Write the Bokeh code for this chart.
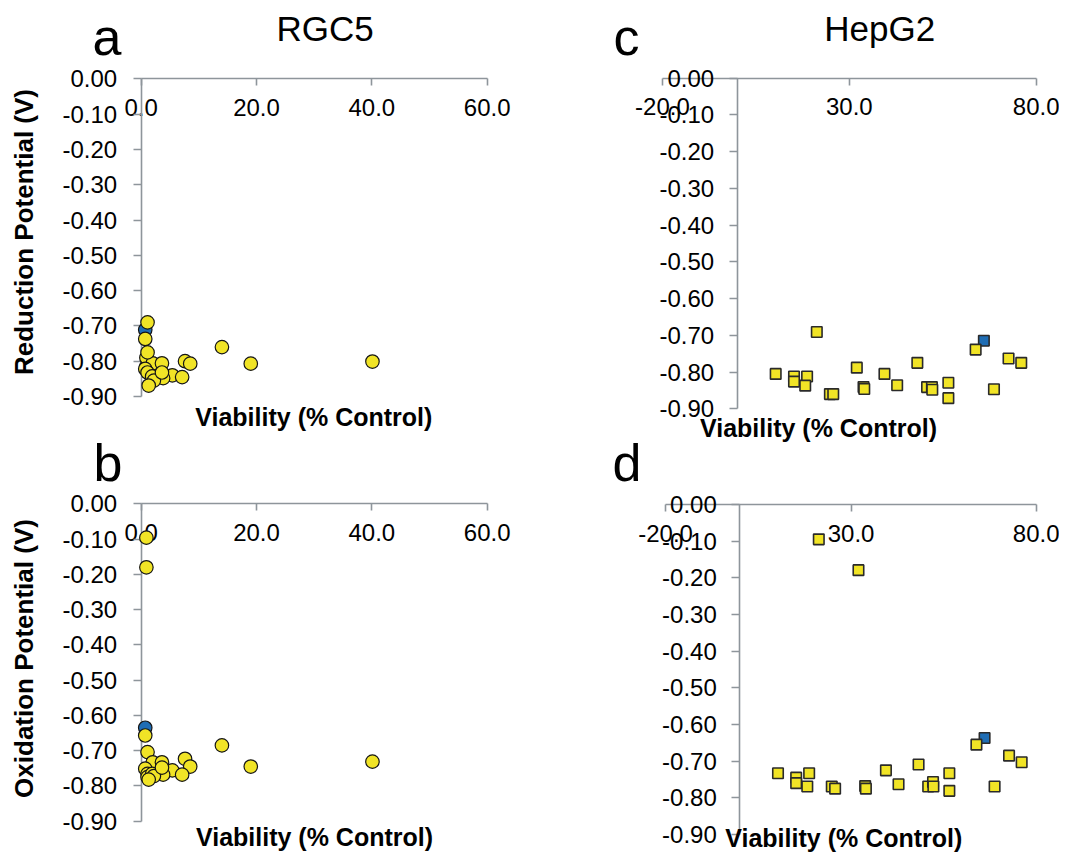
import math
from bokeh.plotting import figure
from bokeh.models import Range1d, LinearAxis, FixedTicker, NumeralTickFormatter, Label
from bokeh.embed import file_html
from bokeh.resources import INLINE

# ---------------- data ----------------
# RGC5 (panels a, b): viability (% control) vs reduction / oxidation potential (V)
rgc5_viability = [0.9, 0.9, 0.7, 1.1, 2.0, 3.6, 7.6, 8.5, 5.4, 7.1, 3.8,
                  14.0, 19.0, 0.7, 1.1, 1.1, 1.9, 2.2, 1.3, 40.1, 3.6]
rgc5_reduction = [-0.815, -0.790, -0.737, -0.690, -0.806, -0.806, -0.800, -0.807, -0.840, -0.845, -0.848,
                  -0.760, -0.807, -0.822, -0.775, -0.832, -0.843, -0.855, -0.869, -0.801, -0.832]
rgc5_oxidation = [-0.096, -0.180, -0.657, -0.704, -0.733, -0.733, -0.723, -0.745, -0.756, -0.768, -0.768,
                  -0.685, -0.745, -0.751, -0.766, -0.775, -0.766, -0.772, -0.782, -0.731, -0.748]
rgc5_ref_viability = [0.7]
rgc5_ref_reduction = [-0.711]
rgc5_ref_oxidation = [-0.635]

# HepG2 (panels c, d)
hepg2_viability = [10.3, 15.2, 15.2, 18.7, 18.2, 21.3, 24.8, 25.7, 32.0, 33.8, 34.0, 39.4,
                   42.8, 48.2, 50.8, 52.1, 52.2, 56.5, 56.5, 63.8, 68.7, 72.6, 76.0]
hepg2_reduction = [-0.805, -0.812, -0.826, -0.812, -0.837, -0.691, -0.860, -0.860, -0.788, -0.841, -0.846, -0.805,
                   -0.836, -0.775, -0.841, -0.841, -0.848, -0.829, -0.871, -0.739, -0.847, -0.763, -0.775]
hepg2_oxidation = [-0.733, -0.745, -0.760, -0.733, -0.769, -0.095, -0.769, -0.775, -0.179, -0.768, -0.775, -0.725,
                   -0.763, -0.709, -0.769, -0.757, -0.769, -0.733, -0.781, -0.655, -0.769, -0.685, -0.703]
hepg2_ref_viability = [66.0]
hepg2_ref_reduction = [-0.715]
hepg2_ref_oxidation = [-0.637]

y_ticks = [0.0, -0.1, -0.2, -0.3, -0.4, -0.5, -0.6, -0.7, -0.8, -0.9]
rgc5_x_ticks = [0.0, 20.0, 40.0, 60.0]
hepg2_x_ticks = [-20.0, 30.0, 80.0]

panel_letters = ["a", "b", "c", "d"]
cell_titles = ["RGC5", "HepG2"]
x_title = "Viability (% Control)"
y_titles = ["Reduction Potential (V)", "Oxidation Potential (V)"]

# ---------------- layout (pixel frame of the picture) ----------------
W, H = 1059, 852
LEFT, RIGHT, TOP, BOTTOM = 0, W, 0, H

YELLOW = "#F1E426"
BLUE = "#1F6DB4"
AXIS_GREY = "#8E959B"
FONT = "Liberation Sans"


def span(p0, v0, p1, v1, lo, hi):
    k = (v1 - v0) / (p1 - p0)
    return v0 + (lo - p0) * k, v0 + (hi - p0) * k


def xr(p0, p1, v1):
    a, b = span(p0, 0.0, p1, v1, LEFT, RIGHT)
    return Range1d(start=a, end=b)


def yr(p0, p1):
    a, b = span(p0, 0.0, p1, -0.9, BOTTOM, TOP)
    return Range1d(start=a, end=b)


p = figure(width=W, height=H, x_range=Range1d(LEFT, RIGHT), y_range=Range1d(BOTTOM, TOP),
           x_axis_type=None, y_axis_type=None, toolbar_location=None,
           output_backend="svg", min_border=0, outline_line_color=None)
p.background_fill_color = "white"
p.grid.visible = False

p.extra_x_ranges = {
    "rgc": xr(140.7, 486.7, 60.0),
    "hc": xr(736.7, 1035.7, 80.0),
    "hd": xr(739.3, 1036.0, 80.0),
}
p.extra_y_ranges = {
    "ya": yr(78.3, 396.0),
    "yb": yr(503.3, 820.7),
    "yc": yr(77.5, 408.3),
    "yd": yr(504.0, 834.0),
}


def add_axes(xname, yname, xbounds, xticks, ystandoff):
    xa = LinearAxis(x_range_name=xname, y_range_name=yname, fixed_location=0,
                    bounds=xbounds, ticker=FixedTicker(ticks=xticks),
                    formatter=NumeralTickFormatter(format="0.0"))
    ya = LinearAxis(x_range_name=xname, y_range_name=yname, fixed_location=0,
                    bounds=(-0.9, 0.0), ticker=FixedTicker(ticks=y_ticks),
                    formatter=NumeralTickFormatter(format="0.00"))
    for ax, tick_out, standoff in ((xa, 7, 13), (ya, 8, ystandoff)):
        ax.axis_line_color = AXIS_GREY
        ax.axis_line_width = 1.6
        ax.major_tick_line_color = AXIS_GREY
        ax.major_tick_line_width = 1.6
        ax.major_tick_in = 0
        ax.major_tick_out = tick_out
        ax.minor_tick_line_color = None
        ax.major_label_text_font = FONT
        ax.major_label_text_font_size = "24px"
        ax.major_label_text_color = "black"
        ax.major_label_standoff = standoff
        ax.level = "underlay"
    p.add_layout(xa, "below")
    p.add_layout(ya, "left")


add_axes("rgc", "ya", (0.0, 60.0), rgc5_x_ticks, 16)
add_axes("rgc", "yb", (0.0, 60.0), rgc5_x_ticks, 16)
add_axes("hc", "yc", (-20.0, 80.0), hepg2_x_ticks, 15)
add_axes("hd", "yd", (-20.0, 80.0), hepg2_x_ticks, 15)


def circles(xs, ys, yname, color):
    p.scatter(x=xs, y=ys, marker="circle", size=13.5, fill_color=color,
              line_color="#151515", line_width=1.2, x_range_name="rgc", y_range_name=yname)


def squares(xs, ys, xname, yname, color):
    p.scatter(x=xs, y=ys, marker="square", size=10.5, fill_color=color,
              line_color="#2a2a2a", line_width=1.6, x_range_name=xname, y_range_name=yname)


circles(rgc5_ref_viability, rgc5_ref_reduction, "ya", BLUE)
circles(rgc5_viability, rgc5_reduction, "ya", YELLOW)
circles(rgc5_ref_viability, rgc5_ref_oxidation, "yb", BLUE)
circles(rgc5_viability, rgc5_oxidation, "yb", YELLOW)
squares(hepg2_ref_viability, hepg2_ref_reduction, "hc", "yc", BLUE)
squares(hepg2_viability, hepg2_reduction, "hc", "yc", YELLOW)
squares(hepg2_ref_viability, hepg2_ref_oxidation, "hd", "yd", BLUE)
squares(hepg2_viability, hepg2_oxidation, "hd", "yd", YELLOW)

MID = 0.3465  # distance (in em) from the middle of the text box down to the baseline


def label(x, baseline, text, size, align="left", style="normal"):
    p.add_layout(Label(x=x, y=baseline - MID * size, text=text, text_font=FONT,
                       text_font_size=f"{size}px", text_font_style=style,
                       text_align=align, text_baseline="middle", text_color="black"))


def vlabel(x_mid, y, text, size):
    p.add_layout(Label(x=x_mid, y=y, text=text, text_font=FONT, text_font_size=f"{size}px",
                       text_font_style="bold", text_align="center", text_baseline="middle",
                       text_color="black", angle=math.pi / 2))


# panel letters and cell-line titles
label(92, 55, panel_letters[0], 52)
label(93, 480.7, panel_letters[1], 52)
label(613, 55, panel_letters[2], 52)
label(612, 480.7, panel_letters[3], 52)
label(324.7, 40, cell_titles[0], 35, align="center")
label(879.2, 40, cell_titles[1], 35, align="center")

# axis titles
label(313.3, 425.5, x_title, 25, align="center", style="bold")
label(314, 845, x_title, 25, align="center", style="bold")
label(818, 436, x_title, 25, align="center", style="bold")
label(843.3, 846, x_title, 25, align="center", style="bold")
vlabel(23, 231.5, y_titles[0], 26)
vlabel(23, 658, y_titles[1], 26)

open("out.html", "w").write(file_html(p, INLINE))
